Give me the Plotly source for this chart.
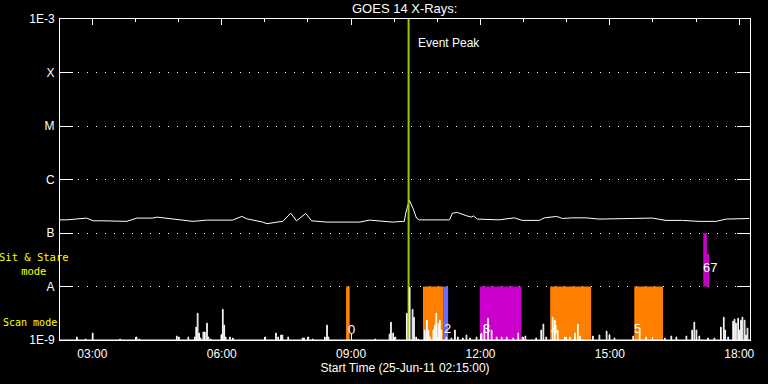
import plotly.graph_objects as go
from datetime import datetime, timedelta

DAY = "2011-06-25 "

# GOES 14 X-ray flux (W/m^2)
goes_times = ["02:15","02:25","02:52","03:01","03:15","03:29","03:48","04:02","04:24","04:30",
              "04:48","05:20","05:39","06:15","06:28","06:35","06:57","07:03","07:17","07:25",
              "07:36","07:44","07:57","08:05","08:26","09:12","09:26","09:58","10:12","10:14",
              "10:16","10:21","10:26","10:31","10:35","11:17","11:21","11:28","11:41","11:48",
              "11:50","11:56","12:26","12:47","12:58","13:22","13:29","13:46","13:54","14:08",
              "14:27","14:45","15:31","15:59","16:18","16:41","17:04","17:28","17:42","17:50","18:14"]
goes_flux = [1.76e-7,1.76e-7,1.90e-7,1.69e-7,1.69e-7,1.65e-7,1.65e-7,1.90e-7,1.90e-7,1.98e-7,
             1.84e-7,1.65e-7,1.74e-7,1.74e-7,2.04e-7,1.84e-7,1.60e-7,1.49e-7,1.60e-7,1.65e-7,
             2.35e-7,1.69e-7,2.32e-7,1.69e-7,1.60e-7,1.60e-7,1.74e-7,1.60e-7,1.65e-7,1.65e-7,
             2.35e-7,4.14e-7,2.90e-7,1.90e-7,1.76e-7,1.76e-7,2.35e-7,2.42e-7,2.09e-7,1.98e-7,
             2.09e-7,1.82e-7,1.76e-7,1.92e-7,1.72e-7,1.72e-7,1.92e-7,2.04e-7,1.87e-7,1.92e-7,
             1.92e-7,1.82e-7,1.87e-7,1.90e-7,1.72e-7,1.72e-7,1.65e-7,1.65e-7,1.82e-7,1.82e-7,1.87e-7]

# Scan-mode activity spikes (arbitrary units, band height = 54)
spike_times = ["02:38","02:50","03:00","03:38","04:01","04:05","04:57","05:00","05:13","05:22",
               "05:24","05:26","05:28","05:30","05:34","05:36","05:39","05:41","05:44","05:59",
               "06:01","06:03","06:05","06:11","06:15","07:00","07:15","07:18","07:22","07:24",
               "07:32","07:52","07:54","08:00","08:06","08:23","08:26","08:28","09:33","09:53",
               "09:55","09:58","10:01","10:17","10:21","10:25","10:27","10:30","10:33","10:42",
               "10:45","10:47","10:49","10:54","10:56","10:58","11:01","11:03","11:05","11:12",
               "11:19","11:24","11:28","11:35","11:40","11:45","11:54","12:01","12:05","12:10",
               "12:15","12:22","12:29","12:36","12:45","12:52","12:58","13:02","13:17","13:24",
               "13:27","13:31","13:40","13:43","13:47","13:57","14:04","14:11","14:15","14:18",
               "14:36","14:45","14:55","14:59","15:06","15:32","15:41","15:50","16:16","16:25",
               "16:32","16:46","16:54","16:57","17:00","17:04","17:16","17:25","17:34","17:38",
               "17:40","17:44","17:51","17:53","17:55","17:58","18:00","18:02","18:04","18:07",
               "18:09","18:11"]
spike_vals = [3,1,7,1,3,1,4,3,3,3,
              13,27,7,2,8,8,17,3,1,5,
              31,15,3,3,2,3,7,3,5,5,
              3,2,2,3,1,3,15,3,1,6,
              18,7,3,27,53,31,23,3,1,10,
              20,10,3,10,15,27,17,20,10,3,
              2,10,3,2,5,2,3,7,15,22,
              10,3,3,3,2,7,3,4,2,10,
              16,3,23,20,10,3,3,7,16,4,
              4,5,9,5,2,4,8,3,2,4,
              3,4,10,18,10,4,2,2,13,23,
              10,3,19,21,17,22,10,20,23,20,
              5,12]

# Scan-mode observation intervals
scan_start = ["08:53","10:40","11:08","11:59","13:37","15:34"]
scan_end   = ["08:58","11:08","11:15","12:57","14:34","16:14"]
scan_kind  = ["orange","orange","blue","magenta","orange","orange"]

# Sit & stare observation intervals
sit_start = ["17:10","17:15"]
sit_end   = ["17:15","17:18"]
sit_top   = [1e-7, 4.1e-8]

# Observation numbers
obs_labels = ["0","2","3","4","5","67"]
obs_times  = ["09:01","11:14","12:08","13:43","15:38","17:20"]
obs_logy   = [-8.80,-8.78,-8.78,-8.80,-8.78,-7.65]

event_time = "10:20"

ytick_vals = [1e-9,1e-8,1e-7,1e-6,1e-5,1e-4,1e-3]
ytick_text = ["1E-9","A","B","C","M","X","1E-3"]

COLORS = {"orange": "#ff8000", "blue": "#6a6aff", "magenta": "#cc00cc"}
EVENT_COLOR = "#99cc00"
FONT = "Liberation Sans"
MONO = "DejaVu Sans Mono"

def ts(hm):
    return DAY + hm

def plus_min(hm, m):
    d = datetime.strptime(DAY + hm, "%Y-%m-%d %H:%M") + timedelta(minutes=m)
    return d.strftime("%Y-%m-%d %H:%M:%S")

fig = go.Figure()

# scan bars
for s, e, k in zip(scan_start, scan_end, scan_kind):
    fig.add_trace(go.Scatter(x=[ts(s), ts(s), ts(e), ts(e), ts(s)],
                             y=[1e-9, 1e-8, 1e-8, 1e-9, 1e-9],
                             mode="lines", fill="toself", fillcolor=COLORS[k],
                             line=dict(width=0, color=COLORS[k]), hoverinfo="skip",
                             showlegend=False))
for s, e, top in zip(sit_start, sit_end, sit_top):
    fig.add_trace(go.Scatter(x=[ts(s), ts(s), ts(e), ts(e), ts(s)],
                             y=[1e-8, top, top, 1e-8, 1e-8],
                             mode="lines", fill="toself", fillcolor=COLORS["magenta"],
                             line=dict(width=0, color=COLORS["magenta"]), hoverinfo="skip",
                             showlegend=False))

# GOES curve
fig.add_trace(go.Scatter(x=[ts(t) for t in goes_times], y=goes_flux, mode="lines",
                         line=dict(color="white", width=1), showlegend=False))

# Event peak line
fig.add_trace(go.Scatter(x=[ts(event_time), ts(event_time)], y=[1e-9, 1e-3], mode="lines",
                         line=dict(color=EVENT_COLOR, width=2), showlegend=False))

# spikes (scan-mode band, own linear axis)
sx, sy = [ts("02:15")], [0]
for t, v in zip(spike_times, spike_vals):
    sx += [ts(t), plus_min(t, 1)]
    sy += [v, 0]
sx.append(ts("18:15")); sy.append(0)
fig.add_trace(go.Scatter(x=sx, y=sy, yaxis="y2", mode="lines", line_shape="hv",
                         line=dict(color="white", width=1), showlegend=False))

for lab, t, ly in zip(obs_labels, obs_times, obs_logy):
    fig.add_annotation(x=ts(t), y=ly, text=lab, showarrow=False,
                       font=dict(color="white", size=13, family=FONT))

fig.add_annotation(x=ts(event_time), y=-3.444, text="Event Peak", showarrow=False,
                   xanchor="left", xshift=7, font=dict(color="white", size=12, family=FONT))

fig.add_annotation(xref="paper", yref="paper", x=-0.038, y=0.236, text="Sit & Stare<br>mode",
                   showarrow=False, xanchor="center", yanchor="middle", align="center",
                   font=dict(color="#ffff00", size=10.5, family=MONO))
fig.add_annotation(xref="paper", yref="paper", x=-0.086, y=0.053, text="Scan mode",
                   showarrow=False, xanchor="left", yanchor="middle",
                   font=dict(color="#ffff00", size=10, family=MONO))

fig.update_layout(
    width=768, height=384,
    margin=dict(l=60, r=18, t=19, b=41),
    paper_bgcolor="black", plot_bgcolor="rgba(0,0,0,0)",
    font=dict(family=FONT, color="white", size=12),
    title=dict(text="GOES 14 X-Rays:", x=0.527, xanchor="center", y=0.977, yanchor="middle",
               yref="container", font=dict(size=13, color="white", family=FONT)),
    xaxis=dict(type="date", range=[ts("02:15"), ts("18:15")],
               tick0="2011-06-25 00:00", dtick=3 * 3600000, tickformat="%H:%M",
               ticks="inside", ticklen=6, tickcolor="white", tickwidth=1,
               minor=dict(dtick=3600000, ticks="inside", ticklen=3, tickcolor="white"),
               showgrid=False, showline=True, linecolor="white", linewidth=1, mirror="ticks",
               zeroline=False, ticklabelstandoff=3,
               title=dict(text="Start Time (25-Jun-11 02:15:00)", standoff=2,
                          font=dict(size=12, color="white")),
               tickfont=dict(size=12, color="white")),
    yaxis=dict(type="log", range=[-9, -3], tickvals=ytick_vals, ticktext=ytick_text,
               ticks="inside", ticklen=13, tickcolor="white", tickwidth=1,
               showgrid=True, gridcolor="white", griddash="1px,8px", gridwidth=1,
               showline=True, linecolor="white", linewidth=1, mirror="ticks",
               zeroline=False, tickfont=dict(size=12, color="white"), ticklabelstandoff=2),
    yaxis2=dict(domain=[0, 1 / 6], range=[0, 54], anchor="x", visible=False,
                showgrid=False, zeroline=False),
    showlegend=False,
)

fig.write_html("out.html", config={"displayModeBar": False},
               post_script="document.body.style.margin='0px';document.body.style.background='black';")
